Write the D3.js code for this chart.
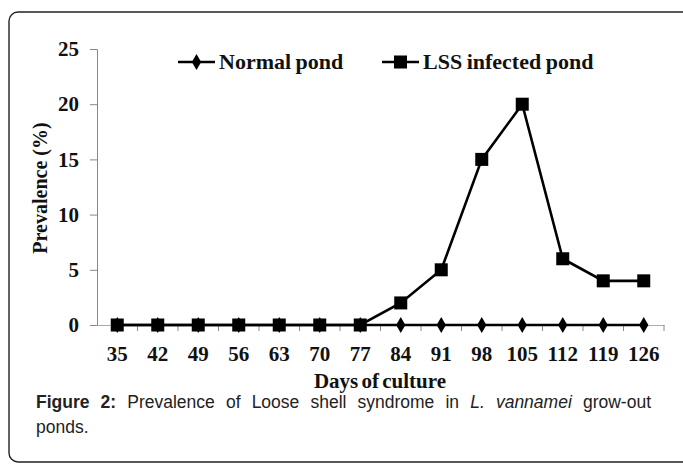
<!DOCTYPE html>
<html><head><meta charset="utf-8">
<script src="https://cdn.jsdelivr.net/npm/d3@7"></script>
<style>html,body{margin:0;padding:0;background:#fff;}svg{display:block;}</style>
</head><body>
<svg id="c" width="683" height="465"></svg>
<script>
const days = ["35","42","49","56","63","70","77","84","91","98","105","112","119","126"];
const normalPond = [0,0,0,0,0,0,0,0,0,0,0,0,0,0];
const lssPond = [0,0,0,0,0,0,0,2,5,15,20,6,4,4];
const yTicks = [0,5,10,15,20,25];
const seriesNames = ["Normal pond","LSS infected pond"];
const xTitle = "Days of culture";
const yTitle = "Prevalence (%)";

const svg = d3.select("#c");
const serif = "'Liberation Serif','Times New Roman',serif";
const sans = "'Liberation Sans',Arial,sans-serif";

// frame
svg.append("rect").attr("x",9).attr("y",12).attr("width",700).attr("height",450)
  .attr("rx",9).attr("fill","none").attr("stroke","#222").attr("stroke-width",1.4);

const x = d3.scaleBand().domain(days).range([97,664]);
const y = d3.scaleLinear().domain([0,25]).range([325,49]);

// y axis
const ya = svg.append("g").attr("transform","translate(97,0)")
  .call(d3.axisLeft(y).tickValues(yTicks).tickSize(7).tickPadding(11));
ya.select(".domain").attr("stroke","#888");
ya.selectAll(".tick line").attr("stroke","#888");
ya.selectAll(".tick text").attr("font-family",serif).attr("font-weight","bold")
  .attr("font-size",21).attr("fill","#111");

// x axis
const xa = svg.append("g").attr("transform","translate(0,325)")
  .call(d3.axisBottom(x).tickSize(0).tickPadding(21));
xa.select(".domain").attr("stroke","#aaa");
xa.selectAll(".tick text").attr("font-family",serif).attr("font-weight","bold")
  .attr("font-size",21).attr("fill","#111");
// boundary ticks
const bounds = days.map(d=>x(d)).concat([x.range()[1]]).slice(1);
svg.append("g").selectAll("line").data(bounds).join("line")
  .attr("x1",d=>d).attr("x2",d=>d).attr("y1",325).attr("y2",331)
  .attr("stroke","#888");

// titles
svg.append("text").attr("x",380).attr("y",388).attr("text-anchor","middle")
  .attr("font-family",serif).attr("font-weight","bold").attr("font-size",21)
  .attr("fill","#111").attr("word-spacing",-2).text(xTitle);
svg.append("text").attr("transform","translate(47,188) rotate(-90)")
  .attr("text-anchor","middle").attr("font-family",serif).attr("font-weight","bold")
  .attr("font-size",20).attr("fill","#111").text(yTitle);

// lines
const line = d3.line().x((d,i)=>x(days[i])+x.bandwidth()/2).y(d=>y(d));
const diamond = d3.symbol().type(d3.symbolDiamond).size(75);
svg.append("path").datum(normalPond).attr("d",line).attr("fill","none")
  .attr("stroke","#000").attr("stroke-width",2.6);
svg.append("g").selectAll("path").data(normalPond).join("path")
  .attr("transform",(d,i)=>`translate(${x(days[i])+x.bandwidth()/2},${y(d)})`)
  .attr("d",diamond).attr("fill","#000");
svg.append("path").datum(lssPond).attr("d",line).attr("fill","none")
  .attr("stroke","#000").attr("stroke-width",2.6);
const sq = 13;
svg.append("g").selectAll("rect").data(lssPond).join("rect")
  .attr("x",(d,i)=>x(days[i])+x.bandwidth()/2-sq/2).attr("y",d=>y(d)-sq/2)
  .attr("width",sq).attr("height",sq).attr("fill","#000");

// legend
const lg = [{x0:178,name:seriesNames[0],type:"d"},{x0:382,name:seriesNames[1],type:"s"}];
lg.forEach(l=>{
  const g = svg.append("g");
  g.append("line").attr("x1",l.x0).attr("x2",l.x0+37).attr("y1",62).attr("y2",62)
    .attr("stroke","#000").attr("stroke-width",2.6);
  if(l.type==="d") g.append("path").attr("transform",`translate(${l.x0+18.5},62)`)
    .attr("d",diamond).attr("fill","#000");
  else g.append("rect").attr("x",l.x0+18.5-6.5).attr("y",62-6.5).attr("width",13).attr("height",13).attr("fill","#000");
  g.append("text").attr("x",l.x0+41).attr("y",69).attr("font-family",serif)
    .attr("font-weight","bold").attr("font-size",22).attr("fill","#111")
    .attr("word-spacing",-1).text(l.name);
});

// caption (justified first line)
const capLine1 = [{t:"Figure",b:true},{t:"2:",b:true},{t:"Prevalence"},{t:"of"},{t:"Loose"},{t:"shell"},{t:"syndrome"},{t:"in"},{t:"L.",i:true},{t:"vannamei",i:true},{t:"grow-out"}];
const capSize = 17.5, left = 36, right = 651, base1 = 408;
const cg = svg.append("g");
const nodes = capLine1.map(w=>cg.append("text").attr("y",base1).attr("font-family",sans)
  .attr("font-size",capSize).attr("fill","#222")
  .attr("font-weight",w.b?"bold":"normal").attr("font-style",w.i?"italic":"normal").text(w.t));
const widths = nodes.map(n=>n.node().getComputedTextLength());
const total = d3.sum(widths);
const gap = (right-left-total)/(nodes.length-1);
let cx = left;
nodes.forEach((n,i)=>{ n.attr("x",cx); cx += widths[i]+gap; });
cg.append("text").attr("x",left).attr("y",base1+25).attr("font-family",sans)
  .attr("font-size",capSize).attr("fill","#222").text("ponds.");
</script>
</body></html>
